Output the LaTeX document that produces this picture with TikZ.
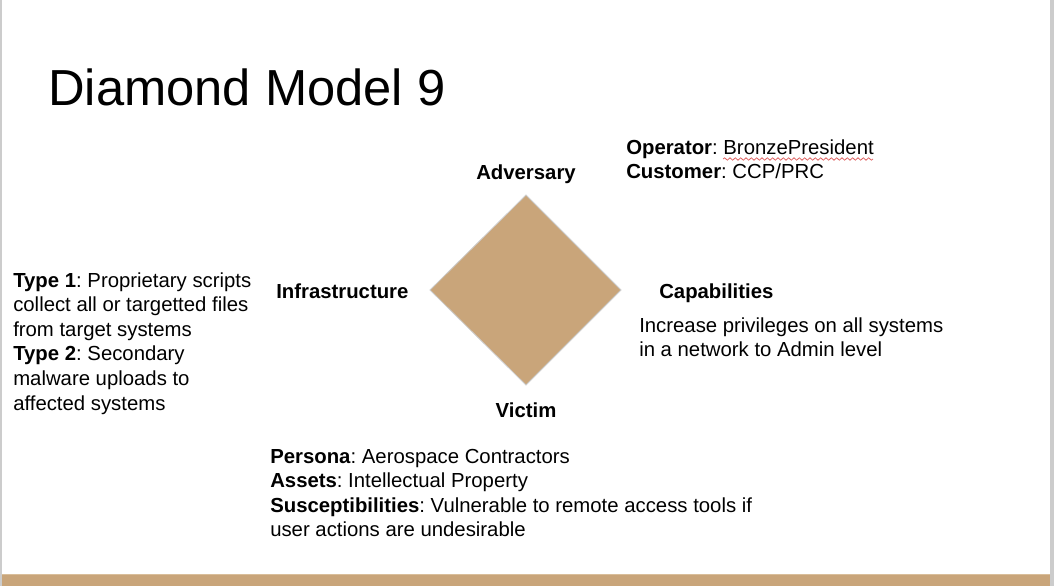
\documentclass[tikz,border=0pt]{standalone}
\usepackage{fontspec}
\setmainfont{Liberation Sans}
\usetikzlibrary{decorations.pathmorphing}
\definecolor{tan}{HTML}{C9A57A}
\definecolor{tanedge}{HTML}{D9BE9A}
\definecolor{frame}{HTML}{CCCCCC}
\definecolor{spell}{HTML}{E06666}
\frenchspacing
\begin{document}
\begin{tikzpicture}[x=0.75pt,y=-0.75pt,
  % multi-line blocks are placed by the baseline of their last line
  body/.style={inner sep=0pt,anchor=base west,align=left,
    font=\fontsize{15.25}{18.45}\selectfont},
  vertex/.style={inner sep=0pt,anchor=base,font=\fontsize{15.25}{18.45}\selectfont\bfseries},
  sidelabel/.style={inner sep=0pt,anchor=base west,font=\fontsize{15.25}{18.45}\selectfont\bfseries}]
  \useasboundingbox (0,0) rectangle (1054,586);
  \fill[white] (0,0) rectangle (1054,586);
  % slide frame and footer band
  \fill[frame] (0,0) rectangle (2,586);
  \fill[frame] (1050,0) rectangle (1054,586);
  \fill[tan] (2,574) rectangle (1050,586);
  \draw[tanedge,line width=0.75pt] (2,574.4) -- (1050,574.4);
  % title
  \node[inner sep=0pt,anchor=base west,font=\fontsize{38}{46}\selectfont] (title) at (48,105) {Diamond Model 9};
  % the diamond
  \coordinate (top) at (526,195);
  \coordinate (right) at (621,290);
  \coordinate (bottom) at (526,385);
  \coordinate (left) at (430,290);
  \filldraw[fill=tan,draw=frame,line width=0.6pt] (top) -- (right) -- (bottom) -- (left) -- cycle;
  % vertex labels
  \node[vertex] (adv) at (526,179) {Adversary};
  \node[vertex] (vic) at (526,417) {Victim};
  \node[sidelabel] (infra) at (276,298) {Infrastructure};
  \node[sidelabel] (cap) at (659,298) {Capabilities};
  % descriptions
  \node[body] (advtext) at (626,178.6) {\textbf{Operator}: BronzePresident\\\textbf{Customer}: CCP/PRC};
  \draw[spell,line width=0.6pt,decorate,decoration={snake,amplitude=0.9,segment length=4}] (723,159) -- (873,159);
  \node[body] (captext) at (639,356.6) {Increase privileges on all systems\\in a network to Admin level};
  \node[body] (infratext) at (13,410) {\textbf{Type 1}: Proprietary scripts\\collect all or targetted files\\from target systems\\\textbf{Type 2}: Secondary\\malware uploads to\\affected systems};
  \node[body] (victext) at (270,536.8) {\textbf{Persona}: Aerospace Contractors\\\textbf{Assets}: Intellectual Property\\\textbf{Susceptibilities}: Vulnerable to remote access tools if\\user actions are undesirable};
\end{tikzpicture}
\end{document}
